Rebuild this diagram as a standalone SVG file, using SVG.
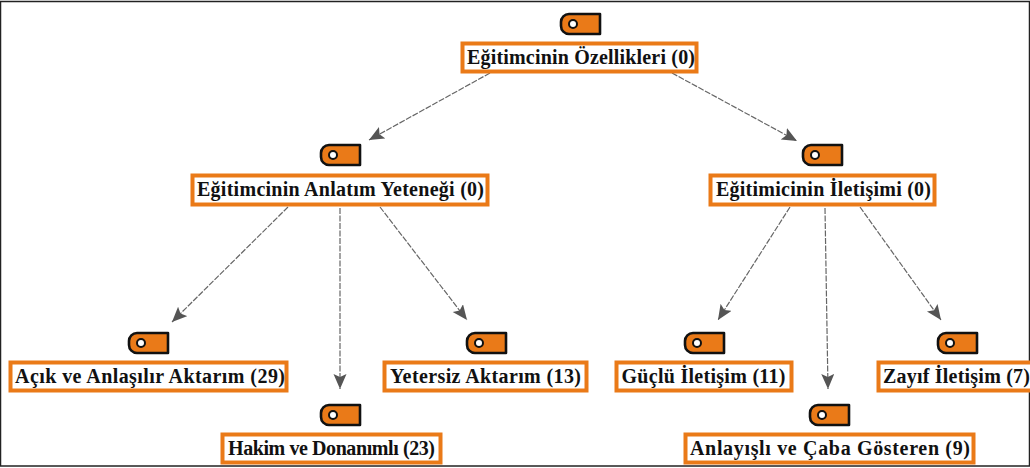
<svg xmlns="http://www.w3.org/2000/svg" width="1030" height="468" viewBox="0 0 1030 468">
<style>
.box{fill:#fff;stroke:#ea7a18;stroke-width:4}
.t{font-family:"Liberation Serif","Times New Roman",serif;font-weight:bold;font-size:20px;fill:#111;text-anchor:middle}
.tag{fill:#ea7a18;stroke:#111;stroke-width:2.6;stroke-linejoin:round}
.hole{fill:#fff;stroke:#111;stroke-width:2}
.c{fill:none;stroke:#666;stroke-width:1.2;stroke-dasharray:6 1.5;marker-end:url(#a)}
</style>
<defs>
<marker id="a" markerUnits="userSpaceOnUse" markerWidth="16" markerHeight="14" refX="15" refY="6.500" orient="auto"><path d="M0 0L15 6.500L0 13L3 6.500Z" fill="#555"/></marker>
<g id="tg"><path class="tag" d="M-11-10H20V10H-11A8 8 0 0 1-19 2V-2A8 8 0 0 1-11-10Z"/><circle class="hole" cx="-7" cy="0" r="4"/></g>
</defs>
<rect x="0.5" y="1.5" width="1029" height="464.5" fill="#fff" stroke="#222" stroke-width="1.5"/>
<g id="connectors">
<path class="c" d="M490 73L369 140"/>
<path class="c" d="M672 73L797 141"/>
<path class="c" d="M288 207L172 322"/>
<path class="c" d="M340 208V389"/>
<path class="c" d="M380 207L467 320"/>
<path class="c" d="M790 207L718 320"/>
<path class="c" d="M825 208L828 389"/>
<path class="c" d="M860 207L941 320"/>
</g>
<g id="n0"><use href="#tg" x="580" y="24"/><rect class="box" x="462.500" y="43.500" width="234" height="28"/><text class="t" x="581" y="63.500" textLength="228">Eğitimcinin Özellikleri (0)</text></g>
<g id="n1"><use href="#tg" x="340" y="155"/><rect class="box" x="192.500" y="175.500" width="295" height="29"/><text class="t" x="340.500" y="195.500" textLength="287">Eğitimcinin Anlatım Yeteneği (0)</text></g>
<g id="n2"><use href="#tg" x="822" y="155"/><rect class="box" x="710.500" y="175.500" width="224" height="29"/><text class="t" x="823.500" y="195.500" textLength="215">Eğitimicinin İletişimi (0)</text></g>
<g id="n3"><use href="#tg" x="148" y="343"/><rect class="box" x="10.500" y="362.500" width="276" height="28"/><text class="t" x="150" y="382.500" textLength="270">Açık ve Anlaşılır Aktarım (29)</text></g>
<g id="n4"><use href="#tg" x="340" y="415"/><rect class="box" x="222.500" y="434.500" width="218" height="28"/><text class="t" x="331.500" y="454.500" textLength="207">Hakim ve Donanımlı (23)</text></g>
<g id="n5"><use href="#tg" x="486" y="343"/><rect class="box" x="384.500" y="362.500" width="202" height="28"/><text class="t" x="485.500" y="382.500" textLength="191">Yetersiz Aktarım (13)</text></g>
<g id="n6"><use href="#tg" x="704" y="343"/><rect class="box" x="616.500" y="362.500" width="175" height="28"/><text class="t" x="703.500" y="382.500" textLength="164">Güçlü İletişim (11)</text></g>
<g id="n7"><use href="#tg" x="829" y="415"/><rect class="box" x="685.500" y="434.500" width="288" height="28"/><text class="t" x="830" y="454.500" textLength="280">Anlayışlı ve Çaba Gösteren (9)</text></g>
<g id="n8"><use href="#tg" x="957" y="343"/><rect class="box" x="878.500" y="362.500" width="160" height="28"/><text class="t" x="956.500" y="382.500" textLength="147">Zayıf İletişim (7)</text></g>
</svg>
